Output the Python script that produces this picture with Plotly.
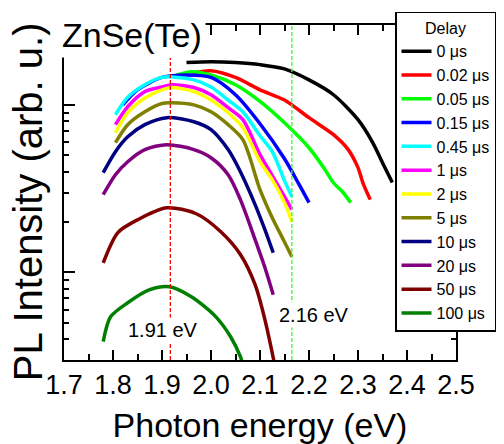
import numpy as np
import plotly.graph_objects as go

# ---------------- data ----------------
delays = ["0 μs", "0.02 μs", "0.05 μs", "0.15 μs", "0.45 μs", "1 μs",
          "2 μs", "5 μs", "10 μs", "20 μs", "50 μs", "100 μs"]
colors = ["#000000", "#FF0000", "#00FF00", "#0000FF", "#00FFFF", "#FF00FF",
          "#FFFF00", "#808000", "#000080", "#800080", "#800000", "#008000"]

e_0us = [1.95, 2.00, 2.05, 2.10, 2.15, 2.20, 2.25, 2.30, 2.33, 2.35, 2.37]
i_0us = [17.9, 18.1, 17.9, 17.4, 16.4, 14.1, 11.5, 8.16, 5.96, 4.52, 3.44]

e_002us = [1.96, 2.00, 2.05, 2.10, 2.15, 2.20, 2.25, 2.28, 2.30, 2.31, 2.325]
i_002us = [15.4, 16.0, 14.6, 12.3, 10.7, 8.39, 6.64, 5.41, 4.22, 3.43, 2.72]

e_005us = [1.93, 1.96, 2.00, 2.05, 2.10, 2.15, 2.20, 2.23, 2.25, 2.27, 2.285]
i_005us = [15.1, 15.8, 15.1, 13.2, 10.5, 7.82, 5.55, 4.22, 3.43, 2.99, 2.61]

e_015us = [1.82, 1.85, 1.90, 1.95, 2.00, 2.05, 2.10, 2.15, 2.18, 2.20]
i_015us = [10.0, 12.3, 14.6, 15.1, 14.6, 11.5, 7.72, 4.77, 3.34, 2.61]

e_045us = [1.805, 1.83, 1.865, 1.90, 1.92, 1.965, 2.00, 2.035, 2.065, 2.10, 2.125, 2.15, 2.165]
i_045us = [8.74, 11.1, 13.2, 14.6, 14.7, 14.1, 12.8, 10.7, 9.10, 6.55, 5.26, 3.53, 2.83]

e_1us = [1.805, 1.83, 1.865, 1.90, 1.92, 1.965, 2.00, 2.035, 2.065, 2.10, 2.125, 2.15, 2.165]
i_1us = [7.62, 9.75, 12.0, 12.8, 13.2, 12.7, 11.5, 9.62, 8.16, 5.05, 3.78, 2.83, 2.37]

e_2us = [1.805, 1.83, 1.865, 1.90, 1.92, 1.965, 2.00, 2.035, 2.065, 2.10, 2.125, 2.15, 2.165]
i_2us = [6.82, 8.98, 11.0, 12.3, 12.7, 12.0, 10.7, 8.98, 7.31, 4.58, 3.58, 2.61, 2.01]

e_5us = [1.805, 1.83, 1.865, 1.90, 1.92, 1.965, 2.00, 2.035, 2.065, 2.10, 2.125, 2.15, 2.165]
i_5us = [5.95, 7.62, 9.10, 10.2, 10.3, 10.0, 9.10, 7.62, 6.20, 3.12, 2.12, 1.52, 1.24]

e_10us = [1.78, 1.805, 1.83, 1.865, 1.91, 1.965, 2.00, 2.035, 2.06, 2.09, 2.11, 2.127]
i_10us = [3.94, 5.26, 6.45, 7.62, 8.39, 7.94, 7.12, 5.41, 3.99, 2.54, 1.80, 1.31]

e_20us = [1.78, 1.805, 1.83, 1.865, 1.91, 1.965, 2.00, 2.035, 2.06, 2.09, 2.11, 2.127]
i_20us = [2.91, 3.83, 4.58, 5.41, 5.79, 5.41, 4.84, 3.83, 2.72, 1.57, 1.07, 0.736]

e_50us = [1.78, 1.81, 1.85, 1.91, 1.97, 2.02, 2.06, 2.09, 2.11, 2.13]
i_50us = [1.14, 1.73, 2.06, 2.43, 2.24, 1.75, 1.28, 0.845, 0.523, 0.281]

e_100us = [1.78, 1.795, 1.83, 1.875, 1.915, 1.96, 2.01, 2.04, 2.06, 2.065]
i_100us = [0.386, 0.543, 0.659, 0.789, 0.822, 0.716, 0.543, 0.413, 0.314, 0.281]

energies = [e_0us, e_002us, e_005us, e_015us, e_045us, e_1us,
            e_2us, e_5us, e_10us, e_20us, e_50us, e_100us]
intensities = [i_0us, i_002us, i_005us, i_015us, i_045us, i_1us,
               i_2us, i_5us, i_10us, i_20us, i_50us, i_100us]

peak_lines_eV = [1.917, 2.165]
peak_line_top = [19.1, 30.0]
peak_line_colors = ["#FF0000", "#33FF33"]
peak_labels = ["1.91 eV", "2.16 eV"]
peak_label_x = [1.902, 2.210]
peak_label_y = [0.455, 0.559]

x_ticks = [1.7, 1.8, 1.9, 2.0, 2.1, 2.2, 2.3, 2.4, 2.5]
y_major = [1, 10]
y_minor = [0.3, 0.4, 0.5, 0.6, 0.7, 0.8, 0.9, 2, 3, 4, 5, 6, 7, 8, 9, 20, 30]

# ---------------- figure ----------------
FONT = "Arial, Liberation Sans, sans-serif"
fig = go.Figure()

for name, col, ex, iy in zip(delays, colors, energies, intensities):
    fig.add_trace(go.Scatter(x=ex, y=iy, mode="lines", name=name,
                             line=dict(color=col, width=3.5, shape="spline", smoothing=0.8)))

for xv, top, col in zip(peak_lines_eV, peak_line_top, peak_line_colors):
    fig.add_trace(go.Scatter(x=[xv, xv], y=[0.3, top], mode="lines", showlegend=False,
                             line=dict(color=col, width=1.3, dash="4px,2px")))

for txt, xv, yv in zip(peak_labels, peak_label_x, peak_label_y):
    fig.add_annotation(x=xv, y=np.log10(yv), xref="x", yref="y", text=txt,
                       showarrow=False, bgcolor="white", borderpad=1,
                       font=dict(family=FONT, size=20, color="black"))

fig.add_annotation(x=-0.015, y=1.039, xref="paper", yref="paper", text="ZnSe(Te)",
                   xanchor="left", yanchor="top", showarrow=False, bgcolor="white",
                   borderpad=3, font=dict(family=FONT, size=34, color="black"))

# y-axis title (placed as rotated text so it sits where the original one does)
fig.add_annotation(x=-0.092, y=0.474, xref="paper", yref="paper",
                   text="PL Intensity (arb. u.)", textangle=-90, showarrow=False,
                   xanchor="center", yanchor="middle",
                   font=dict(family=FONT, size=40, color="black"))

fig.update_xaxes(range=[1.7, 2.5], tickvals=x_ticks, tickformat=".1f",
                 showline=True, linecolor="black", linewidth=2, mirror="ticks",
                 ticks="inside", ticklen=10, tickwidth=2, tickcolor="black",
                 minor=dict(dtick=0.05, ticks="inside", ticklen=6, tickwidth=2, tickcolor="black"),
                 showgrid=False, zeroline=False,
                 tickfont=dict(family=FONT, size=27, color="black"),
                 title=dict(text="Photon energy (eV)", font=dict(family=FONT, size=34, color="black"),
                            standoff=14))
fig.update_yaxes(type="log", range=[np.log10(0.3), np.log10(30)], tickvals=y_major,
                 showticklabels=False,
                 showline=True, linecolor="black", linewidth=2, mirror="ticks",
                 ticks="inside", ticklen=11, tickwidth=2, tickcolor="black",
                 minor=dict(tickvals=y_minor, ticks="inside", ticklen=5, tickwidth=2, tickcolor="black"),
                 showgrid=False, zeroline=False)

fig.update_layout(
    width=504, height=444,
    margin=dict(l=64, r=48, t=25, b=84, autoexpand=False),
    paper_bgcolor="white", plot_bgcolor="white",
    font=dict(family=FONT, color="black"),
    legend=dict(x=0.8444, y=1.039, xanchor="left", yanchor="top",
                bgcolor="white", bordercolor="black", borderwidth=1.5,
                font=dict(family=FONT, size=16, color="black"),
                title=dict(text="Delay", side="top center", font=dict(family=FONT, size=16)),
                tracegroupgap=0, maxheight=420),
)

fig.write_html("out.html")
